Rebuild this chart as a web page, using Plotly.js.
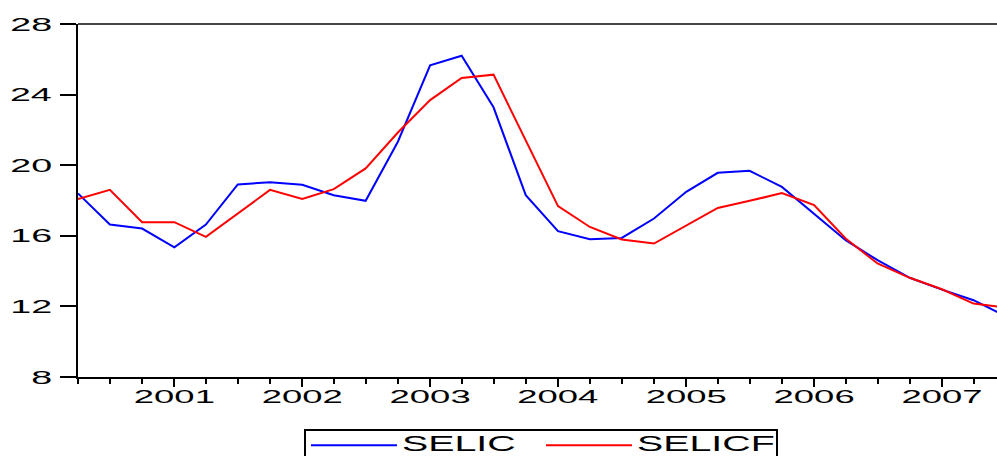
<!DOCTYPE html>
<html>
<head>
<meta charset="utf-8">
<script src="https://cdn.plot.ly/plotly-3.0.1.min.js"></script>
<style>
html,body{margin:0;padding:0;background:#fff;overflow:hidden;}
#chart{width:997px;height:456px;}
</style>
</head>
<body>
<div id="chart"></div>
<script>
// Quarterly observations (start of quarter)
var quarters = [
  '2000-04-01','2000-07-01','2000-10-01',
  '2001-01-01','2001-04-01','2001-07-01','2001-10-01',
  '2002-01-01','2002-04-01','2002-07-01','2002-10-01',
  '2003-01-01','2003-04-01','2003-07-01','2003-10-01',
  '2004-01-01','2004-04-01','2004-07-01','2004-10-01',
  '2005-01-01','2005-04-01','2005-07-01','2005-10-01',
  '2006-01-01','2006-04-01','2006-07-01','2006-10-01',
  '2007-01-01','2007-04-01','2007-07-01'
];
var selic = [
  18.40, 16.64, 16.41,
  15.35, 16.64, 18.91, 19.04,
  18.89, 18.30, 17.98, 21.33,
  25.66, 26.20, 23.28, 18.30,
  16.26, 15.81, 15.88, 16.98,
  18.49, 19.57, 19.68, 18.77,
  17.26, 15.75, 14.62, 13.62,
  12.95, 12.35, 11.45
];
var selicf = [
  18.08, 18.60, 16.77,
  16.77, 15.94, 17.27, 18.60,
  18.09, 18.64, 19.82, 21.85,
  23.69, 24.94, 25.13, 21.40,
  17.68, 16.50, 15.79, 15.56,
  16.57, 17.58, 17.98, 18.42,
  17.74, 15.85, 14.43, 13.62,
  12.97, 12.16, 11.94
];
var yTicks = [8, 12, 16, 20, 24, 28];

var FONT = 'Liberation Sans, Arial, sans-serif';

var traces = [
  {x: quarters, y: selic, name: 'SELIC', type: 'scatter', mode: 'lines',
   line: {color: '#0000ff', width: 2}},
  {x: quarters, y: selicf, name: 'SELICF', type: 'scatter', mode: 'lines',
   line: {color: '#ff0000', width: 2}}
];

var layout = {
  width: 997, height: 456,
  margin: {l: 78, r: 0, t: 24, b: 79.3, pad: 0, autoexpand: false},
  paper_bgcolor: '#ffffff', plot_bgcolor: '#ffffff',
  font: {family: FONT, color: '#000000', size: 19},
  showlegend: true,
  legend: {
    orientation: 'h', x: (304 - 78) / 919, xanchor: 'left',
    y: (376.7 - 428.3) / 352.7, yanchor: 'top',
    bordercolor: '#000000', borderwidth: 2, bgcolor: '#ffffff',
    font: {family: FONT, size: 12, color: '#000000'},
    itemwidth: 86, entrywidth: 134, entrywidthmode: 'pixels',
    traceorder: 'normal'
  },
  xaxis: {
    type: 'date',
    range: ['2000-04-01', '2007-06-07'],
    tick0: '2001-01-01', dtick: 'M12', tickformat: '%Y',
    ticks: 'outside', ticklen: 8, tickwidth: 2, tickcolor: '#000000',
    minor: {dtick: 'M3', tick0: '2000-04-01', ticks: 'outside', ticklen: 5, tickwidth: 2, tickcolor: '#000000', showgrid: false},
    showline: true, linecolor: '#000000', linewidth: 2,
    showgrid: false, zeroline: false, ticklabelstandoff: -7,
    tickfont: {family: FONT, size: 19, color: '#000000'}
  },
  yaxis: {
    range: [8, 28], tickmode: 'array', tickvals: yTicks,
    ticktext: yTicks.map(String),
    ticks: 'outside', ticklen: 16, tickwidth: 2, tickcolor: '#000000',
    showline: true, linecolor: '#000000', linewidth: 2,
    showgrid: false, zeroline: false, ticklabelstandoff: 4,
    tickfont: {family: FONT, size: 19, color: '#000000'}
  },
  shapes: [
    {type: 'line', xref: 'paper', yref: 'paper', x0: 0, x1: 1, y0: 1, y1: 1,
     line: {color: '#444444', width: 2}}
  ]
};

// widen text horizontally to mimic the stretched look of the original image
function stretch(sel, sx, sy, dy) {
  document.querySelectorAll(sel).forEach(function (el) {
    var bb = el.getBBox();
    var anchor = el.getAttribute('text-anchor') || 'start';
    var px = anchor === 'end' ? bb.x + bb.width : (anchor === 'middle' ? bb.x + bb.width / 2 : bb.x);
    var py = bb.y + bb.height / 2;
    var t = el.getAttribute('transform') || '';
    el.setAttribute('transform', t + ' translate(' + px + ',' + (py + (dy || 0)) + ') scale(' + sx + ',' + sy +
      ') translate(' + (-px) + ',' + (-py) + ')');
  });
}

Plotly.newPlot('chart', traces, layout, {displayModeBar: false, staticPlot: true}).then(function () {
  stretch('#chart .xtick text', 1.92, 1, 0);
  stretch('#chart .ytick text', 1.98, 1, 0);
  stretch('#chart .legendtext', 22.5 * 1.75 / 12, 22.5 / 12, -2);
});
</script>
</body>
</html>
